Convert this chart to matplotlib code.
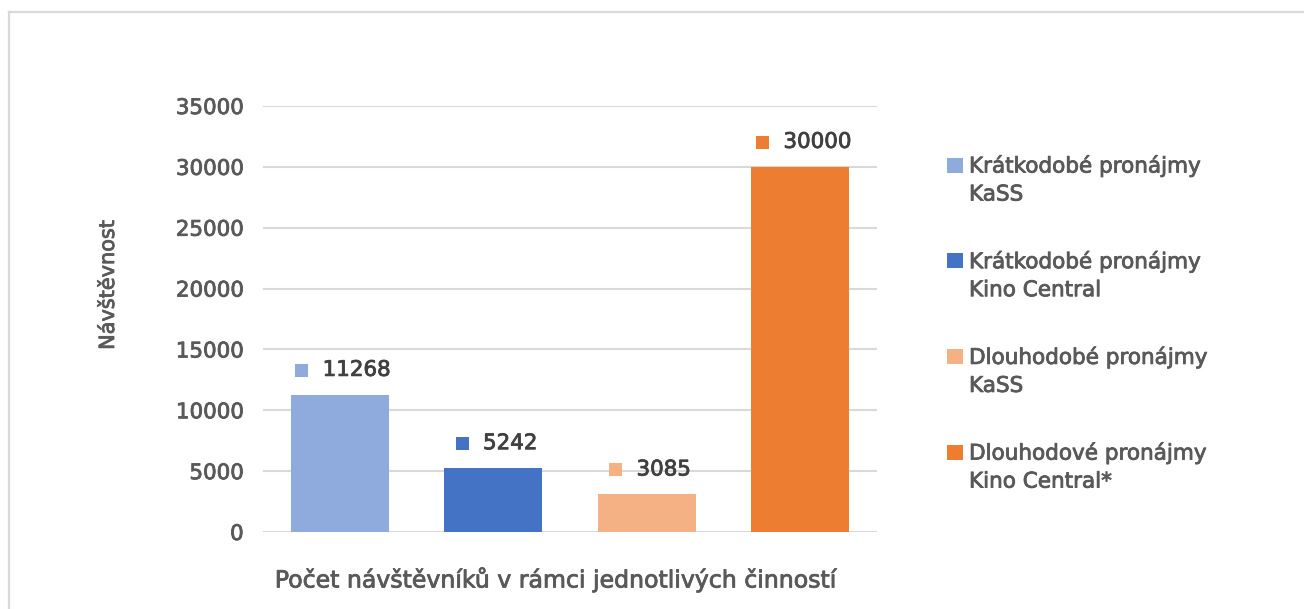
import matplotlib
matplotlib.use('Agg')
import matplotlib.pyplot as plt
import matplotlib.patheffects as pe
from matplotlib.lines import Line2D
from matplotlib.patches import Rectangle
from matplotlib.transforms import ScaledTranslation

# ---- data ----
series_labels = ['Krátkodobé pronájmy\nKaSS',
                 'Krátkodobé pronájmy\nKino Central',
                 'Dlouhodobé pronájmy\nKaSS',
                 'Dlouhodové pronájmy\nKino Central*']
values = [11268, 5242, 3085, 30000]
colors = ['#8FAADC', '#4472C4', '#F4B183', '#ED7D31']
yticks = [0, 5000, 10000, 15000, 20000, 25000, 30000, 35000]
ylabel = 'Návštěvnost'
xlabel = 'Počet návštěvníků v rámci jednotlivých činností'

W, H = 1304, 609
plt.rcParams['font.family'] = ['DejaVu Sans']
TXT = '#595959'
FS = 15


def stroke(c):
    return [pe.withStroke(linewidth=0.6, foreground=c)]


fig = plt.figure(figsize=(W / 100, H / 100), dpi=100)
fig.patch.set_facecolor('white')

# outer chart frame (light grey, cut at right/bottom)
fx, fy = 8.5 / W, 1 - 12 / H
fig.add_artist(Line2D([fx, fx], [0, fy], color='#D9D9D9', lw=1.6))
fig.add_artist(Line2D([fx, 1], [fy, fy], color='#D9D9D9', lw=1.6))

ax = fig.add_axes([263 / W, (H - 532) / H, (877 - 263) / W, (532 - 106) / H])
xpos = list(range(len(values)))
ax.bar(xpos, values, width=0.64, color=colors, zorder=3)
ax.set_xlim(-0.5, len(values) - 0.5)
ax.set_ylim(0, 35000)
ax.set_yticks(yticks)
ax.set_yticklabels([str(t) for t in yticks])
ax.set_xticks([])
ax.yaxis.grid(True, color='#D9D9D9', lw=1.5, zorder=0)
ax.set_axisbelow(True)
for s in ax.spines.values():
    s.set_visible(False)
ax.tick_params(axis='y', length=0, pad=14, labelsize=FS + 0.4, labelcolor=TXT)
for lab in ax.get_yticklabels():
    lab.set_path_effects(stroke(TXT))
ax.patch.set_alpha(0)

# data labels with coloured square markers
fig.canvas.draw()
r = fig.canvas.get_renderer()
for xi, v, c in zip(xpos, values, colors):
    t = ax.annotate(str(v), xy=(xi, v), xytext=(0, 18), textcoords='offset points',
                    ha='left', va='center', fontsize=FS + 0.4, color='#404040', zorder=5,
                    path_effects=stroke('#404040'))
    w = t.get_window_extent(r).width
    group = 13 + 15 + w
    left = -group / 2 + 3
    t.xyann = ((left + 28) * 0.72, 18)
    tr = ax.transData + ScaledTranslation((left + 6.5) / 100, 25 / 100, fig.dpi_scale_trans)
    ax.plot([xi], [v], marker='s', ms=13 * 0.72, mec=c, mfc=c, mew=0,
            transform=tr, clip_on=False, zorder=5)

# legend (manual, square aligned with first line)
leg_top = 165
leg_step = 95.7
for i, (lab, c) in enumerate(zip(series_labels, colors)):
    yc = leg_top + i * leg_step
    fig.add_artist(Rectangle((947 / W, 1 - (yc + 7.5) / H), 16 / W, 15 / H,
                             transform=fig.transFigure, color=c, lw=0))
    for j, line in enumerate(lab.split('\n')):
        fig.text(969 / W, 1 - (yc + 7.5 + j * 28) / H, line, ha='left', va='baseline',
                 fontsize=FS + 0.5, color=TXT, path_effects=stroke(TXT))

fig.text(108 / W, 1 - 285 / H, ylabel, rotation=90, ha='center', va='center',
         fontsize=FS, color=TXT, path_effects=stroke(TXT))
fig.text(556 / W, 1 - 579 / H, xlabel, ha='center', va='center',
         fontsize=FS + 2, color=TXT, path_effects=stroke(TXT))

fig.savefig('out.png', dpi=100)
